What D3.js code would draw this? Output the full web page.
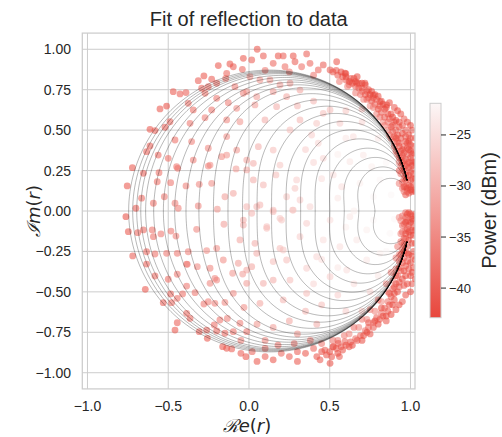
<!DOCTYPE html>
<html>
<head>
<meta charset="utf-8">
<script src="https://cdn.jsdelivr.net/npm/d3@7"></script>
<style>
  body { margin: 0; background: #fff; }
  text { font-family: "Liberation Sans", Arial, sans-serif; fill: #262626; }
</style>
</head>
<body>
<div id="chart"></div>
<script>
// ---- data -----------------------------------------------------------------
// measured reflection points: [Re, Im, power dBm]
var leftPts = [
  [-0.722,0.268,-42],[-0.754,0.155,-42],[-0.762,-0.035,-43],[-0.747,-0.128,-42],[-0.72,-0.278,-41],
  [-0.7,0.017,-41],[-0.665,0.079,-40],[-0.654,0.233,-41],[-0.689,-0.134,-40],[-0.654,-0.117,-40],
  [-0.599,-0.117,-39],[-0.592,-0.159,-39],[-0.545,-0.142,-38],[-0.568,0.181,-39],[-0.557,0.237,-39],
  [-0.524,0.088,-38],[-0.592,0.048,-39],[-0.458,0.048,-37],[-0.438,0.017,-37],[-0.485,0.175,-38],
  [-0.5,0.326,-39],[-0.441,0.264,-38],[-0.39,0.155,-37],[-0.308,0.165,-36],[-0.314,0.031,-36],
  [-0.324,-0.113,-36],[-0.483,-0.124,-38],[-0.452,-0.155,-37],[-0.634,-0.252,-40],[-0.582,-0.266,-39],
  [-0.51,-0.262,-38],[-0.444,-0.262,-38],[-0.376,-0.252,-37],[-0.262,-0.245,-35],[-0.382,-0.33,-37],
  [-0.32,-0.344,-36],[-0.582,-0.402,-40],[-0.5,-0.422,-39],[-0.444,-0.391,-38],[-0.634,-0.328,-41],
  [-0.241,-0.354,-36],[-0.159,-0.303,-35],[-0.2,-0.231,-35],[-0.211,-0.416,-36]
];
var upperLeftPts = [
  [-0.035,0.944,-42],[-0.118,0.909,-42],[-0.19,0.899,-42],[-0.097,0.892,-41],[-0.041,0.876,-40],
  [-0.138,0.851,-40],[-0.144,0.82,-39],[-0.314,0.806,-41],[-0.279,0.835,-42],[-0.231,0.815,-41],
  [-0.2,0.79,-40],[-0.469,0.738,-42],[-0.427,0.724,-41],[-0.39,0.732,-41],[-0.293,0.759,-40],
  [-0.252,0.769,-40],[-0.272,0.728,-39],[-0.087,0.769,-37],[-0.035,0.728,-36],[-0.51,0.649,-43],
  [-0.551,0.631,-42],[-0.376,0.666,-39],[-0.2,0.697,-38],[-0.128,0.67,-37],[-0.489,0.552,-40],
  [-0.613,0.505,-42],[-0.582,0.497,-41],[-0.52,0.518,-41],[-0.345,0.625,-39],[-0.231,0.625,-38],
  [-0.076,0.635,-35],[-0.272,0.577,-37],[-0.138,0.563,-36],[-0.365,0.542,-38],[-0.458,0.439,-39],
  [-0.613,0.402,-41],[-0.634,0.367,-41],[-0.562,0.346,-40],[-0.355,0.429,-37],[-0.252,0.388,-36],
  [-0.138,0.46,-35],[-0.056,0.552,-34],[-0.345,0.315,-37],[-0.169,0.336,-35],[-0.076,0.377,-34],
  [-0.448,0.274,-38],[-0.252,0.278,-36]
];
var lowerLeftPts = [
  [-0.386,-0.328,-37],[-0.386,-0.464,-38],[-0.334,-0.505,-38],[-0.241,-0.447,-36],[-0.2,-0.427,-36],
  [-0.101,-0.385,-34],[-0.039,-0.39,-33],[-0.642,-0.484,-42],[-0.531,-0.567,-41],[-0.485,-0.513,-40],
  [-0.479,-0.567,-40],[-0.444,-0.54,-39],[-0.411,-0.513,-39],[-0.279,-0.575,-38],[-0.252,-0.561,-37],
  [-0.149,-0.565,-36],[-0.097,-0.509,-35],[-0.031,-0.596,-35],[-0.386,-0.633,-40],[-0.365,-0.664,-40],
  [-0.444,-0.691,-41],[-0.458,-0.736,-42],[-0.308,-0.746,-41],[-0.262,-0.736,-40],[-0.258,-0.787,-42],
  [-0.215,-0.705,-39],[-0.18,-0.674,-38],[-0.2,-0.742,-40],[-0.149,-0.756,-40],[-0.097,-0.746,-39],
  [-0.014,-0.746,-38],[-0.056,-0.694,-37],[-0.163,-0.839,-42],[-0.138,-0.849,-42],[-0.107,-0.853,-41],
  [-0.019,-0.901,-42],[-0.134,-0.664,-37],[-0.211,-0.571,-37]
];
var innerPts = [
  [-0.241,0.284,-35],[-0.231,0.171,-35],[-0.196,0.011,-34],[-0.149,0.088,-33],[-0.155,-0.082,-33],
  [-0.138,0.346,-34],[-0.097,0.109,-32],[-0.08,0.26,-33],[-0.056,-0.179,-32],[-0.035,-0.056,-31],
  [-0.014,0.254,-32],[0.027,0.295,-31],[0.017,-0.014,-30],[0.037,-0.2,-31],[0.048,0.027,-30],
  [0.089,0.161,-30],[0.11,-0.107,-29],[0.15,-0.004,-29],[0.167,0.223,-29],[0.202,-0.056,-28],
  [0.192,-0.231,-29],[0.233,-0.303,-29],[0.27,0.006,-28],[0.285,0.14,-28],[0.017,-0.344,-32],
  [-0.066,-0.323,-33],[0.15,-0.427,-31],[-0.014,-0.447,-33],
  [0.037,0.656,-33],[0.099,0.563,-31],[0.058,0.398,-31],[-0.014,0.315,-32],[0.027,0.192,-31],
  [0.15,0.377,-29],[0.192,0.284,-28],[0.295,0.192,-27],[0.233,0.088,-28],[0.388,0.47,-27],
  [0.429,0.419,-26],[0.46,0.326,-26],[0.522,0.223,-25],[0.574,0.15,-25],[0.563,0.542,-27],
  [0.502,0.625,-29],[0.646,0.46,-25],[0.708,0.346,-24],[0.76,0.274,-23],[0.625,0.305,-24],
  [0.687,0.171,-23],[0.77,0.088,-22],[0.811,0.192,-22],[0.316,0.068,-27],[0.378,0.027,-26],
  [0.254,0.501,-29],[0.316,0.563,-30],[0.171,0.645,-31],[0.419,0.542,-28],[0.46,0.604,-29],
  [0.006,0.83,-35],[0.068,0.81,-34],[0.13,0.81,-34],[0.192,0.779,-33],[0.254,0.79,-33],
  [0.316,0.748,-32],[0.15,0.738,-33],[-0.014,0.738,-34],[0.048,0.707,-33],[0.233,0.707,-32],
  [-0.014,0.027,-30],[0.068,0.037,-30],[0.15,0.006,-29],[-0.035,-0.087,-31],[0.11,-0.097,-29],
  [0.192,-0.045,-28],[0.274,0.006,-28],[0.357,-0.076,-27],[0.316,-0.159,-27],[0.212,-0.241,-28],
  [0.048,-0.262,-31],[0.15,-0.313,-29],[-0.014,-0.365,-32],[0.089,-0.447,-31],[0.254,-0.427,-29],
  [0.357,-0.354,-27],[0.419,-0.283,-26],[0.46,-0.179,-25],[0.502,-0.056,-25],[0.625,-0.035,-24],
  [0.563,-0.221,-25],[0.667,-0.179,-24],[0.729,-0.117,-23],[0.77,-0.056,-22],[0.502,-0.406,-27],
  [0.357,-0.509,-29],[0.212,-0.55,-30],[0.068,-0.571,-32],[0.605,-0.365,-25],[0.729,-0.303,-24],
  [0.811,-0.262,-23],[0.873,-0.138,-22],
  [0.05,-0.7,-34],[0.15,-0.72,-33],[0.25,-0.68,-32],[0.35,-0.62,-30],[0.45,-0.58,-29],
  [0.55,-0.52,-27],[0.3,-0.76,-34],[0.42,-0.7,-31],[-0.05,-0.8,-37],[0.1,-0.8,-36],
  [0.55,0.35,-23],[0.6,0.45,-24],[0.7,0.55,-26],[0.8,0.45,-24],[0.85,0.3,-22],[0.88,0.1,-22],
  [0.65,0.0,-23],[0.55,0.08,-24],[0.45,0.2,-25],[0.4,0.3,-26],[0.35,0.38,-27],[0.6,0.62,-28],
  [0.7,0.63,-29],[0.55,-0.35,-24],[0.65,-0.45,-25],[0.75,-0.5,-26],[0.8,-0.4,-24],[0.85,-0.25,-22],
  [0.9,-0.05,-22],[0.4,-0.45,-26],[0.45,-0.3,-25],[0.6,-0.1,-23],[0.7,-0.62,-28],[0.6,-0.62,-27],
  [0.4,0.68,-30],[0.3,0.65,-30]
];
var topArcPts = [
  [0.051,1.0,-42],[0.089,0.959,-41],[0.181,0.959,-42],[0.212,0.959,-41],[0.274,0.959,-42],
  [0.357,0.971,-41],[0.543,0.923,-42],[0.017,0.934,-41],[0.15,0.913,-40],[0.285,0.923,-41],
  [0.378,0.913,-40],[0.46,0.903,-41],[0.326,0.892,-39],[0.223,0.892,-39],[0.429,0.872,-40],
  [0.502,0.872,-41],[0.594,0.852,-42],[0.625,0.8,-40],[0.718,0.79,-42],[0.667,0.79,-41],
  [0.77,0.717,-41],[0.811,0.676,-41],[0.853,0.656,-42],[0.1,0.87,-38],[0.25,0.86,-38],[0.4,0.84,-38]
];
var bottomArcPts = [
  [0.05,-0.93,-42],[0.1,-0.9,-41],[0.15,-0.92,-42],[0.2,-0.88,-40],[0.25,-0.9,-41],
  [0.3,-0.87,-41],[0.35,-0.88,-42],[0.4,-0.85,-40],[0.45,-0.87,-42],[0.1,-0.85,-38],
  [0.18,-0.83,-38],[0.28,-0.82,-38],[0.38,-0.8,-37],[0.02,-0.87,-40],[-0.05,-0.88,-41],
  [0.3,-0.93,-42],[0.42,-0.9,-42],[0.512,-0.901,-42],[0.502,-0.942,-43],[0.522,-0.839,-41],
  [0.553,-0.818,-41],[0.594,-0.808,-40]
];
var upperBandPts = [
  [0.52,0.86,-42],[0.55,0.84,-41],[0.58,0.83,-42],[0.6,0.81,-40],[0.62,0.8,-41],[0.64,0.79,-42],
  [0.66,0.77,-40],[0.68,0.76,-41],[0.7,0.74,-39],[0.72,0.72,-42],[0.74,0.7,-40],[0.76,0.68,-41],
  [0.78,0.66,-39],[0.8,0.63,-42],[0.82,0.61,-40],[0.84,0.58,-41],[0.86,0.55,-38],[0.88,0.52,-42],
  [0.89,0.49,-40],[0.9,0.46,-41],[0.92,0.43,-39],[0.93,0.4,-42],[0.94,0.37,-40],[0.95,0.34,-41],
  [0.96,0.31,-38],[0.97,0.28,-42],[0.98,0.25,-40],[0.99,0.22,-41],[1.0,0.19,-39],[1.0,0.15,-42],
  [1.01,0.12,-41],[0.99,0.11,-40],
  [0.56,0.8,-37],[0.61,0.77,-36],[0.66,0.73,-37],[0.71,0.69,-36],[0.75,0.65,-35],[0.79,0.6,-36],
  [0.83,0.55,-35],[0.86,0.5,-36],[0.88,0.45,-35],[0.9,0.4,-37],[0.92,0.35,-36],[0.93,0.3,-35],
  [0.95,0.25,-37],[0.96,0.2,-36],[0.97,0.15,-38],[0.96,0.12,-37],
  [0.6,0.85,-43],[0.65,0.82,-42],[0.7,0.79,-43],[0.74,0.75,-42],[0.78,0.72,-43],[0.82,0.68,-42],
  [0.85,0.64,-43],[0.88,0.6,-42],[0.91,0.56,-43],[0.93,0.52,-42],[0.95,0.48,-43],[0.97,0.43,-42],
  [0.99,0.38,-43],[1.0,0.33,-42],[1.01,0.28,-43],[1.02,0.23,-42],
  [0.97,0.5,-41],[1.0,0.45,-40],[1.02,0.4,-42],[0.98,0.35,-39],[1.02,0.3,-41],[0.95,0.18,-38],
  [0.98,0.12,-40],[1.02,0.16,-41],[0.94,0.28,-37],[0.96,0.4,-38],[0.91,0.5,-39],[1.01,0.2,-43],
  [0.99,0.3,-42],[0.97,0.22,-43],
  [1.0,0.24,-41],[1.02,0.26,-40],[0.99,0.27,-39],[1.01,0.35,-40],[1.02,0.36,-43],[1.0,0.41,-41],
  [0.98,0.42,-39],[0.99,0.47,-42],[0.97,0.46,-40],[0.94,0.45,-41],[0.96,0.36,-42],[0.97,0.32,-41],
  [0.98,0.29,-40],[0.97,0.19,-42],[0.99,0.16,-41],[1.0,0.13,-43],[0.98,0.14,-42],[0.95,0.53,-41],
  [0.93,0.55,-42],[0.9,0.55,-40],[0.92,0.47,-42],[0.89,0.53,-41],[0.87,0.57,-40],[0.86,0.6,-42],
  [0.84,0.63,-41],[0.81,0.65,-42],[0.79,0.69,-40],[0.77,0.7,-42],[0.75,0.72,-43],[0.73,0.74,-41],
  [0.7,0.76,-42],[0.68,0.79,-42],[0.66,0.8,-43],[0.63,0.82,-41],[0.6,0.83,-42],[0.57,0.86,-43],
  [0.54,0.87,-41],[0.62,0.78,-38],[0.69,0.72,-38],[0.73,0.69,-39],[0.77,0.64,-37],[0.81,0.58,-38],
  [0.84,0.53,-37],[0.87,0.47,-36],[0.9,0.43,-38],[0.91,0.37,-39],[0.93,0.33,-37],[0.94,0.23,-38],
  [0.93,0.17,-36],[0.95,0.14,-37],
  [1.03,0.12,-42],[1.03,0.2,-41],[1.03,0.3,-43],[1.03,0.45,-42],[1.01,0.5,-41],[1.0,0.53,-43],
  [0.98,0.55,-42],[0.96,0.57,-40],[0.94,0.6,-42],[0.92,0.62,-43],[0.9,0.64,-41],[0.87,0.67,-42],
  [0.99,0.43,-43],[1.0,0.37,-41],[0.98,0.39,-42],[1.01,0.31,-40],[0.96,0.26,-41],[0.95,0.3,-42],
  [0.94,0.33,-40],[0.95,0.38,-43],[0.93,0.42,-41],[0.97,0.1,-41],[1.02,0.13,-40],[0.96,0.15,-43],
  [0.93,0.25,-39],[0.91,0.45,-42],[0.89,0.58,-43],[0.83,0.66,-43],[0.8,0.71,-42],[0.76,0.74,-43],
  [0.72,0.78,-42],[0.67,0.83,-43]
];
var lowerBandPts = [
  [0.99,-0.01,-42],[1.01,-0.03,-41],[0.97,-0.04,-40],[1.0,-0.07,-43],[0.96,-0.08,-39],[1.02,-0.1,-42],
  [0.98,-0.11,-41],[0.95,-0.13,-38],[1.0,-0.15,-43],[0.97,-0.17,-40],[0.94,-0.19,-37],[1.01,-0.2,-42],
  [0.98,-0.22,-41],[0.95,-0.24,-39],[0.99,-0.27,-43],[0.96,-0.29,-40],[0.93,-0.31,-38],[0.97,-0.34,-42],
  [0.94,-0.37,-40],[0.92,-0.4,-38],[0.95,-0.42,-43],[0.91,-0.45,-40],[0.89,-0.48,-38],[0.92,-0.5,-42],
  [0.88,-0.53,-40],[0.86,-0.56,-38],[0.89,-0.58,-43],[0.84,-0.6,-40],[0.82,-0.63,-38],[0.85,-0.65,-42],
  [0.79,-0.66,-40],[0.77,-0.69,-38],[0.8,-0.7,-43],[0.74,-0.72,-40],[0.72,-0.74,-38],[0.75,-0.76,-42],
  [0.69,-0.77,-40],[0.66,-0.79,-39],[0.7,-0.8,-43],[0.63,-0.81,-41],[0.6,-0.83,-42],[0.57,-0.84,-41],
  [0.54,-0.85,-42],[0.52,-0.84,-40],[0.5,-0.87,-42],[0.47,-0.86,-41],[0.55,-0.8,-37],[0.62,-0.76,-36],
  [0.68,-0.72,-36],[0.73,-0.67,-35],[0.78,-0.62,-36],[0.82,-0.56,-35],[0.86,-0.5,-36],[0.89,-0.43,-35],
  [0.91,-0.36,-36],[0.93,-0.27,-35],[0.95,-0.2,-36],[0.97,-0.12,-37],[0.94,-0.06,-36],[1.02,-0.25,-42],
  [1.02,-0.35,-41],[1.0,-0.4,-42],[1.01,-0.05,-43],[0.99,-0.18,-42],[1.0,-0.32,-43],[0.98,-0.45,-42],
  [1.0,-0.02,-42],[0.98,-0.06,-41],[1.02,-0.06,-43],[0.99,-0.09,-40],[0.97,-0.14,-42],[1.02,-0.15,-41],
  [0.99,-0.13,-43],[0.96,-0.21,-42],[0.98,-0.26,-43],[1.01,-0.28,-42],[0.95,-0.32,-41],[0.98,-0.31,-40],
  [0.96,-0.37,-42],[0.99,-0.36,-41],[0.93,-0.44,-42],[0.96,-0.46,-41],[0.9,-0.51,-43],[0.93,-0.47,-40],
  [0.87,-0.58,-41],[0.9,-0.55,-42],[0.83,-0.65,-43],[0.86,-0.62,-41],[0.81,-0.67,-42],[0.77,-0.72,-41],
  [0.73,-0.75,-43],[0.71,-0.77,-42],[0.67,-0.8,-41],[0.64,-0.83,-43],[0.58,-0.86,-42],[0.55,-0.88,-43],
  [0.48,-0.89,-42],[0.44,-0.92,-41],[0.92,-0.22,-37],[0.94,-0.14,-36],[0.95,-0.03,-37],[0.91,-0.29,-36],
  [0.88,-0.38,-37],[0.85,-0.45,-36],[0.8,-0.55,-37],[0.75,-0.61,-36],[0.7,-0.67,-37],[0.65,-0.72,-38],
  [0.59,-0.77,-37],[0.52,-0.8,-38],[0.45,-0.82,-38],[0.97,-0.01,-38],[0.95,-0.09,-39],[0.93,-0.04,-35],
  [1.03,-0.02,-42],[1.03,-0.12,-43],[1.03,-0.2,-41],[1.03,-0.3,-42],[1.03,-0.42,-43],[1.01,-0.45,-41],
  [1.0,-0.5,-43],[0.97,-0.52,-42],[0.95,-0.56,-41],[0.93,-0.58,-43],[0.91,-0.61,-42],[0.88,-0.64,-43],
  [0.85,-0.68,-42],[0.97,-0.4,-43],[0.96,-0.25,-43],[0.97,-0.07,-43],[0.96,-0.17,-41],[1.01,-0.12,-40],
  [1.01,-0.38,-43],[0.98,-0.02,-42],[0.94,-0.27,-41],[0.93,-0.35,-42],[0.91,-0.4,-41],[0.9,-0.47,-42],
  [0.87,-0.51,-41],[0.82,-0.6,-42],[0.78,-0.68,-43],[0.74,-0.69,-41],[0.62,-0.84,-42],[0.56,-0.9,-41]
];

// fitted curves, one per input power
var fitPower  = [-42.9,-41.9,-40.9,-39.9,-38.9,-37.9,-36.9,-35.9,-34.9,-33.9,-32.9,
                 -31.9,-30.9,-29.9,-28.9,-27.9,-26.9,-25.9,-24.9,-23.9,-22.9,-21.9];
var fitCentre = [-0.745,-0.72,-0.695,-0.67,-0.64,-0.59,-0.53,-0.46,-0.39,-0.31,-0.22,
                 -0.13,-0.04,0.05,0.14,0.23,0.32,0.41,0.5,0.59,0.68,0.78];   // Re(r) on resonance
var fitWidth  = [1.0,1.0,1.0,1.0,1.0,1.0,1.0,1.0,1.0,1.0,1.0,
                 1.15,1.3,1.45,1.65,1.9,2.2,2.6,3.1,3.7,4.5,6.0];         // saturation width
var lowPowerLoss = 1.149;   // kappa/kappa_e far off resonance
var sweepSpan = 10.4;       // half sweep, 2*detuning/kappa_e

var xTicks = [-1.0, -0.5, 0.0, 0.5, 1.0];
var yTicks = [-1.0, -0.75, -0.5, -0.25, 0.0, 0.25, 0.5, 0.75, 1.0];
var cTicks = [-40, -35, -30, -25];

// ---- layout ----------------------------------------------------------------
var width = 502,
    height = 437;

var svg = d3.select("#chart")
  .append("svg")
  .attr("width", width)
  .attr("height", height);

var x = d3.scaleLinear().domain([-1.032, 1.028]).range([82.3, 415]);
var y = d3.scaleLinear().domain([-1.1, 1.1]).range([388.9, 33.1]);

var powMin = -42.9, powMax = -21.9;
var colour = d3.scaleLinear()
  .domain([powMin, powMax])
  .range(["#e8463c", "#fcf7f7"])
  .interpolate(d3.interpolateRgb);

// grid
var grid = svg.append("g");
grid.selectAll(".gx").data(xTicks).enter().append("line")
  .attr("x1", function(d){ return x(d) }).attr("x2", function(d){ return x(d) })
  .attr("y1", y.range()[0]).attr("y2", y.range()[1])
  .attr("stroke", "#cccccc").attr("stroke-width", 1);
grid.selectAll(".gy").data(yTicks).enter().append("line")
  .attr("y1", function(d){ return y(d) }).attr("y2", function(d){ return y(d) })
  .attr("x1", x.range()[0]).attr("x2", x.range()[1])
  .attr("stroke", "#cccccc").attr("stroke-width", 1);

svg.append("clipPath").attr("id", "plotclip")
  .append("rect")
  .attr("x", x.range()[0]).attr("y", y.range()[1])
  .attr("width", x.range()[1] - x.range()[0])
  .attr("height", y.range()[0] - y.range()[1]);

var plot = svg.append("g").attr("clip-path", "url(#plotclip)");

// scatter
var samples = [].concat(leftPts, upperLeftPts, lowerLeftPts, innerPts,
                        topArcPts, bottomArcPts, upperBandPts, lowerBandPts);
samples.sort(function(a, b){ return b[2] - a[2] });

plot.selectAll(".pt").data(samples).enter().append("circle")
  .attr("cx", function(d){ return x(d[0]) })
  .attr("cy", function(d){ return y(d[1]) })
  .attr("r", 3.4)
  .attr("fill", function(d){ return colour(d[2]) })
  .attr("fill-opacity", 0.55);

// fit curves: r = 1 - 2 / (u + i v), loss u rising near resonance
var steps = d3.range(-sweepSpan, sweepSpan + 1e-9, 0.02);
var line = d3.line().x(function(d){ return x(d[0]) }).y(function(d){ return y(d[1]) });

fitCentre.forEach(function(c, i){
  var u0 = 2 / (1 - c);
  var extra = u0 - lowPowerLoss;
  var w = fitWidth[i];
  var pts = steps.map(function(v){
    var u = lowPowerLoss + extra / (1 + (v / w) * (v / w));
    var den = u * u + v * v;
    return [1 - 2 * u / den, 2 * v / den];
  });
  plot.append("path")
    .attr("d", line(pts))
    .attr("fill", "none")
    .attr("stroke", "#000")
    .attr("stroke-opacity", 0.28)
    .attr("stroke-width", 1);
});

// frame
svg.append("rect")
  .attr("x", x.range()[0]).attr("y", y.range()[1])
  .attr("width", x.range()[1] - x.range()[0])
  .attr("height", y.range()[0] - y.range()[1])
  .attr("fill", "none").attr("stroke", "#cccccc").attr("stroke-width", 1.25);

// tick labels
var fx = d3.format(".1f"), fy = d3.format(".2f");
svg.selectAll(".xl").data(xTicks).enter().append("text")
  .attr("x", function(d){ return x(d) }).attr("y", 410.5)
  .attr("text-anchor", "middle").attr("font-size", 14)
  .text(function(d){ return fx(d) });
svg.selectAll(".yl").data(yTicks).enter().append("text")
  .attr("x", 71).attr("y", function(d){ return y(d) + 5 })
  .attr("text-anchor", "end").attr("font-size", 14)
  .text(function(d){ return fy(d) });

// title and axis labels
svg.append("text").attr("x", 248.7).attr("y", 25.5)
  .attr("text-anchor", "middle").attr("font-size", 20)
  .text("Fit of reflection to data");

var xl = svg.append("text").attr("x", 247).attr("y", 432)
  .attr("text-anchor", "middle").attr("font-size", 18)
  .style("font-family", "'DejaVu Sans'");
xl.append("tspan").style("font-family", "'DejaVu Serif'").style("font-style", "italic").text("ℛ");
xl.append("tspan").style("font-style", "italic").text("e");
xl.append("tspan").text("(");
xl.append("tspan").style("font-style", "italic").text("r");
xl.append("tspan").text(")");

var yl = svg.append("text")
  .attr("transform", "translate(40," + y(0) + ") rotate(-90)")
  .attr("text-anchor", "middle").attr("font-size", 18)
  .style("font-family", "'DejaVu Sans'");
yl.append("tspan").style("font-family", "'DejaVu Serif'").style("font-style", "italic").text("ℐ");
yl.append("tspan").style("font-style", "italic").text("m");
yl.append("tspan").text("(");
yl.append("tspan").style("font-style", "italic").text("r");
yl.append("tspan").text(")");

// colour bar
var cb = d3.scaleLinear().domain([powMin, powMax]).range([317.7, 103.3]);
var grad = svg.append("defs").append("linearGradient")
  .attr("id", "cbar").attr("x1", 0).attr("x2", 0).attr("y1", 1).attr("y2", 0);
d3.range(0, 1.0001, 0.1).forEach(function(t){
  grad.append("stop").attr("offset", t)
    .attr("stop-color", colour(powMin + t * (powMax - powMin)));
});
svg.append("rect")
  .attr("x", 430).attr("y", cb(powMax))
  .attr("width", 11).attr("height", cb(powMin) - cb(powMax))
  .attr("fill", "url(#cbar)").attr("stroke", "#cccccc").attr("stroke-width", 1);
svg.selectAll(".ct").data(cTicks).enter().append("line")
  .attr("x1", 441).attr("x2", 446)
  .attr("y1", function(d){ return cb(d) }).attr("y2", function(d){ return cb(d) })
  .attr("stroke", "#262626").attr("stroke-width", 1);
svg.selectAll(".cl").data(cTicks).enter().append("text")
  .attr("x", 449).attr("y", function(d){ return cb(d) + 4.5 })
  .attr("font-size", 13)
  .text(function(d){ return d3.format("d")(d) });
svg.append("text")
  .attr("transform", "translate(496," + ((cb(powMax) + cb(powMin)) / 2) + ") rotate(-90)")
  .attr("text-anchor", "middle").attr("font-size", 20)
  .text("Power (dBm)");
</script>
</body>
</html>
